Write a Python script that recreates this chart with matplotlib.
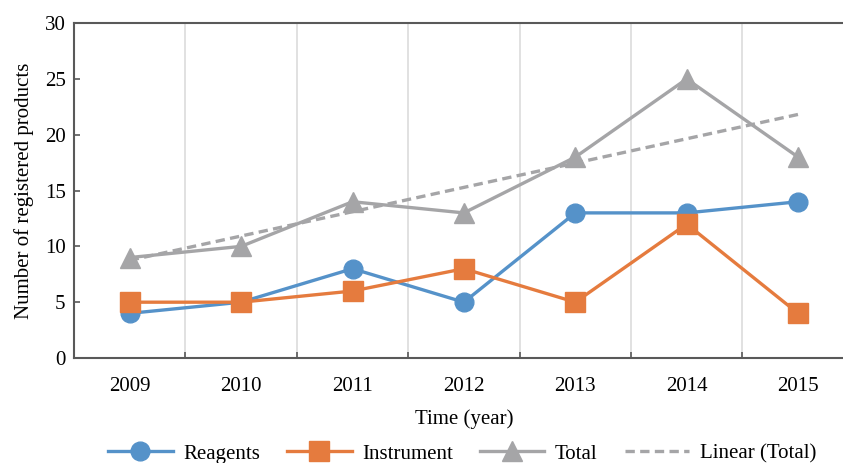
import numpy as np
import matplotlib
matplotlib.use("Agg")
from matplotlib import pyplot as plt

plt.rcParams['font.family'] = ['Liberation Serif', 'DejaVu Serif']

years = ['2009', '2010', '2011', '2012', '2013', '2014', '2015']
reagents = [4, 5, 8, 5, 13, 13, 14]
instrument = [5, 5, 6, 8, 5, 12, 4]
total = [9, 10, 14, 13, 18, 25, 18]

x = np.arange(len(years))
# linear trend of the total, as the spreadsheet draws it
slope, icpt = np.polyfit(x, total, 1)
trend = slope * x + icpt

fig = plt.figure(figsize=(8.43, 4.63), dpi=100)
ax = fig.add_axes([0.0878, 0.2268, 0.925, 0.7232])

blue, orange, grey = '#5592C9', '#E57B3E', '#A5A5A7'
ax.plot(x, reagents, color=blue, lw=2.4, marker='o', ms=13.5, label='Reagents', zorder=3)
ax.plot(x, instrument, color=orange, lw=2.4, marker='s', ms=14, label='Instrument', zorder=4)
ax.plot(x, total, color=grey, lw=2.4, marker='^', ms=14, label='Total', zorder=5)
ax.plot(x, trend, color=grey, lw=2.4, ls=(0, (2.8, 1.6)), label='Linear (Total)', zorder=6)

ax.set_xlim(-0.5, len(years) - 0.5)
ax.set_ylim(0, 30)
ax.set_yticks(range(0, 31, 5))
ax.set_xticks(x)
ax.set_xticklabels(years)
ax.set_xticks(np.arange(0.5, len(years) - 0.5, 1), minor=True)
ax.grid(True, which='minor', axis='x', color='#d9d9d9', lw=1.1)
ax.tick_params(axis='x', which='major', length=0, pad=14, labelsize=15)
ax.tick_params(axis='x', which='minor', direction='in', length=4, width=1.2, color='#595959')
ax.tick_params(axis='y', direction='in', length=4, width=1.2, color='#595959', labelsize=15, pad=6)

for s in ['left', 'bottom', 'top']:
    ax.spines[s].set_color('#595959')
    ax.spines[s].set_linewidth(1.5)
ax.spines['right'].set_visible(False)

ax.set_xlabel('Time (year)', fontsize=15, labelpad=9)
ax.set_ylabel('Number of registered products', fontsize=15, labelpad=8)

fig.legend(loc='center', bbox_to_anchor=(0.548, 0.02), ncol=4, frameon=False,
           fontsize=15, handlelength=3.1, columnspacing=1.3, handletextpad=0.5)

fig.savefig('out.png', dpi=100)
